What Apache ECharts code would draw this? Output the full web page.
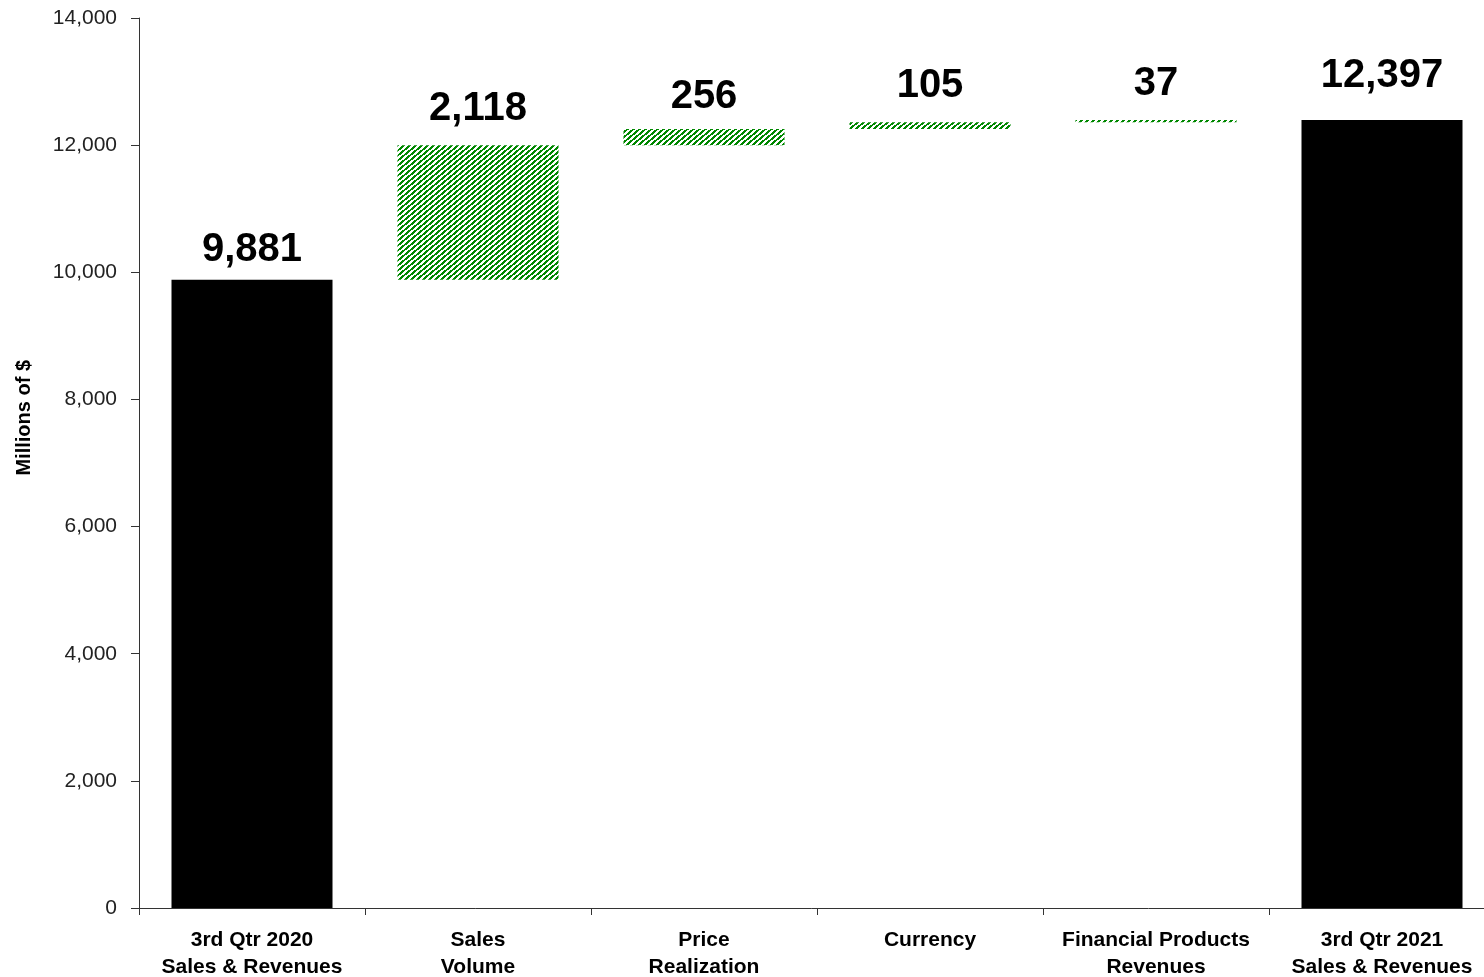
<!DOCTYPE html>
<html>
<head>
<meta charset="utf-8">
<script src="https://cdn.jsdelivr.net/npm/echarts@6/dist/echarts.min.js"></script>
<style>
html,body{margin:0;padding:0;background:#fff;}
#main{width:1484px;height:977px;}
</style>
</head>
<body>
<div id="main"></div>
<script>
// ---- data ----
var categories = ['3rd Qtr 2020\nSales & Revenues', 'Sales\nVolume', 'Price\nRealization', 'Currency', 'Financial Products\nRevenues', '3rd Qtr 2021\nSales & Revenues'];
var startValue = 9881;
var changes = [2118, 256, 105, 37];
var endValue = 12397;
var yTicks = { min: 0, max: 14000, interval: 2000 };

// ---- derived ----
var totals = [startValue, null, null, null, null, endValue];
var deltas = [null].concat(changes).concat([null]);
var bases = [0];
var run = startValue;
changes.forEach(function (c) { bases.push(run); run += c; });
bases.push(0);
var baseData = bases.map(function (b, i) { return (i === 0 || i === bases.length - 1) ? null : b; });

// hatch pattern
var tile = document.createElement('canvas');
tile.width = 6; tile.height = 5;
var tctx = tile.getContext('2d');
var img = tctx.createImageData(6, 5);
for (var y = 0; y < 5; y++) {
  for (var x = 0; x < 6; x++) {
    var k = (x * 5 + y * 6) % 30;
    var idx = (y * 6 + x) * 4;
    var green = k < 15;
    img.data[idx] = green ? 0 : 255;
    img.data[idx + 1] = green ? 136 : 255;
    img.data[idx + 2] = green ? 0 : 255;
    img.data[idx + 3] = 255;
  }
}
tctx.putImageData(img, 0, 0);

var narrow = '"Liberation Sans Narrow", "Arial Narrow", "Liberation Sans", Arial, sans-serif';
var labelGap = [10, 16, 12, 16, 16, 24];
function fmt(v) { return Number(v).toLocaleString('en-US'); }
function labelFor(i) {
  return {
    show: true, position: 'top', distance: labelGap[i],
    fontFamily: narrow, fontWeight: 'bold', fontSize: 40, color: '#000',
    formatter: function (p) { return fmt(p.value); }
  };
}
function withLabels(arr) {
  return arr.map(function (v, i) { return v == null ? null : { value: v, label: labelFor(i) }; });
}

var chart = echarts.init(document.getElementById('main'));
chart.setOption({
  animation: false,
  backgroundColor: '#fff',
  grid: { left: 139, top: 18, bottom: 69, width: 1356, containLabel: false, outerBoundsMode: 'none' },
  xAxis: {
    type: 'category', data: categories,
    axisLine: { lineStyle: { color: '#333', width: 1 } },
    axisTick: { show: true, length: 7, lineStyle: { color: '#333' } },
    axisLabel: { interval: 0, margin: 19, fontFamily: narrow, fontWeight: 'bold', fontSize: 21, lineHeight: 27, color: '#000' }
  },
  yAxis: {
    type: 'value', min: yTicks.min, max: yTicks.max, interval: yTicks.interval,
    splitLine: { show: false },
    axisLine: { show: true, lineStyle: { color: '#333', width: 1 } },
    axisTick: { show: true, length: 8, lineStyle: { color: '#333' } },
    axisLabel: { margin: 22, fontFamily: '"Liberation Sans", Arial, sans-serif', fontSize: 21, color: '#222',
      formatter: fmt }
  },
  graphic: [{
    type: 'text', left: 14, top: 360, rotation: Math.PI / 2,
    style: { text: 'Millions of $', fontFamily: narrow, fontWeight: 'bold', fontSize: 20, fill: '#000' }
  }],
  series: [
    { type: 'bar', stack: 'w', data: baseData, barWidth: 161, itemStyle: { color: 'transparent' }, silent: true },
    { type: 'bar', stack: 'w', data: withLabels(deltas), barWidth: 161, itemStyle: { color: { image: tile, repeat: 'repeat' } } },
    { type: 'bar', stack: 'w', data: withLabels(totals), barWidth: 161, itemStyle: { color: '#000' } }
  ]
});
</script>
</body>
</html>
